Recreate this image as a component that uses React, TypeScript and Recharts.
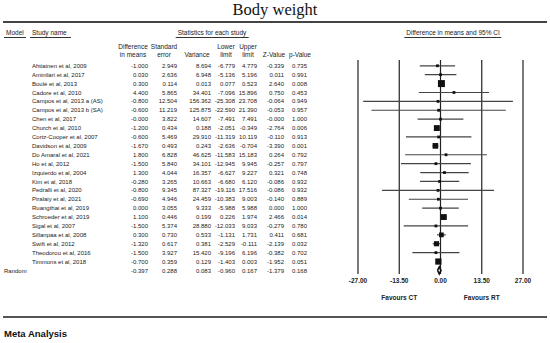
import React from 'react';
import { ScatterChart, Scatter, XAxis, YAxis, ErrorBar, ReferenceLine } from 'recharts';

const studies = [
  'Ahtiainen et al, 2009', 'Aminilari et al, 2017', 'Boulé et al, 2013', 'Cadore et al, 2010',
  'Campos et al, 2013 a (AS)', 'Campos et al, 2013 b (SA)', 'Chen et al, 2017', 'Church et al, 2010',
  'Cortz-Cooper et al, 2007', 'Davidson et al, 2009', 'Do Amaral et al, 2021', 'Ho et al, 2012',
  'Izquierdo et al, 2004', 'Kim et al, 2018', 'Pedralli et al, 2020', 'Piralaiy et al, 2021',
  'Ruangthai et al, 2019', 'Schroeder et al, 2019', 'Sigal et al, 2007', 'Sillanpaa et al, 2008',
  'Swift et al, 2012', 'Theodorou et al, 2016', 'Timmons et al, 2018',
];
const diffs = [-1.0, 0.03, 0.3, 4.4, -0.8, -0.6, -0, -1.2, -0.6, -1.67, 1.8, -1.5, 1.3, -0.28, -0.8, -0.69, 0.0, 1.1, -1.5, 0.3, -1.32, -1.5, -0.7];
const stdErrs = [2.949, 2.636, 0.114, 5.865, 12.504, 11.219, 3.822, 0.434, 5.469, 0.493, 6.828, 5.84, 4.044, 3.265, 9.345, 4.946, 3.055, 0.446, 5.374, 0.73, 0.617, 3.927, 0.359];
const variances = [8.694, 6.948, 0.013, 34.401, 156.362, 125.875, 14.607, 0.188, 29.91, 0.243, 46.625, 34.101, 16.357, 10.663, 87.327, 24.459, 9.333, 0.199, 28.88, 0.533, 0.381, 15.42, 0.129];
const lowers = [-6.779, -5.136, 0.077, -7.096, -25.308, -22.59, -7.491, -2.051, -11.319, -2.636, -11.583, -12.945, -6.627, -6.68, -19.116, -10.383, -5.988, 0.226, -12.033, -1.131, -2.529, -9.196, -1.403];
const uppers = [4.779, 5.196, 0.523, 15.896, 23.708, 21.39, 7.491, -0.349, 10.119, -0.704, 15.183, 9.945, 9.227, 6.12, 17.516, 9.003, 5.988, 1.974, 9.033, 1.731, -0.111, 6.196, 0.003];
const zValues = [-0.339, 0.011, 2.64, 0.75, -0.064, -0.053, -0, -2.764, -0.11, -3.39, 0.264, -0.257, 0.321, -0.086, -0.086, -0.14, 0.0, 2.466, -0.279, 0.411, -2.139, -0.382, -1.952];
const pValues = [0.735, 0.991, 0.008, 0.453, 0.949, 0.957, 1.0, 0.006, 0.913, 0.001, 0.792, 0.797, 0.748, 0.932, 0.932, 0.889, 1.0, 0.014, 0.78, 0.681, 0.032, 0.702, 0.051];

// random effects summary: diff, se, variance, lower, upper, z, p
const randomRow = [-0.397, 0.288, 0.083, -0.96, 0.167, -1.379, 0.168];

const xTicks = [-27, -13.5, 0, 13.5, 27];

const TAU2 = 0.42;
const RANDOM_IDX = studies.length;

const fmt = (v: number) => (Object.is(v, -0) ? '-0.000' : v.toFixed(3));

const studyData = studies.map((name, i) => ({
  name,
  x: diffs[i],
  y: i,
  err: [diffs[i] - lowers[i], uppers[i] - diffs[i]],
  size: Math.max(2.8, 4.6 * Math.sqrt(1 / (variances[i] + TAU2))),
}));

const diamondData = [
  { x: randomRow[3], y: RANDOM_IDX },
  { x: randomRow[0], y: RANDOM_IDX - 0.4 },
  { x: randomRow[4], y: RANDOM_IDX },
  { x: randomRow[0], y: RANDOM_IDX + 0.4 },
  { x: randomRow[3], y: RANDOM_IDX },
];

// right edges of the statistics columns
const colRight = [148, 177, 211, 235, 257, 284, 307];

const txt = '#222';
const FS = 6;
const HFS = 6.5;

const RowTick = (props: any) => {
  const { y, payload } = props;
  const i = payload.value as number;
  const isRandom = i === RANDOM_IDX;
  const vals = isRandom
    ? randomRow
    : [diffs[i], stdErrs[i], variances[i], lowers[i], uppers[i], zValues[i], pValues[i]];
  return (
    <g fontSize={FS} fill={txt} fontFamily='"Liberation Sans", Arial, sans-serif'>
      {isRandom ? (
        <text x={4} y={y} dy="0.35em">Random</text>
      ) : (
        <text x={32} y={y} dy="0.35em">{studies[i]}</text>
      )}
      {vals.map((v, k) => (
        <text key={k} x={colRight[k]} y={y} dy="0.35em" textAnchor="end">{fmt(v)}</text>
      ))}
    </g>
  );
};

const AxisTick = (props: any) => {
  const { x, y, payload } = props;
  const v = payload.value as number;
  return (
    <g fontSize={HFS} fill={txt} fontFamily='"Liberation Sans", Arial, sans-serif' fontWeight={600}>
      <text x={x} y={y - 1} dy="0.35em" textAnchor="middle">{v.toFixed(2)}</text>
      {v === -13.5 && <text x={x} y={y + 16} dy="0.35em" textAnchor="middle">Favours CT</text>}
      {v === 13.5 && <text x={x} y={y + 16} dy="0.35em" textAnchor="middle">Favours RT</text>}
    </g>
  );
};

const Box = (props: any) => {
  const { cx, cy, payload } = props;
  const s = payload.size;
  return <rect x={cx - s / 2} y={cy - s / 2} width={s} height={s} fill="#111" />;
};

const rowTicks = [...studies.map((_, i) => i), RANDOM_IDX];

const abs = (left: number, top: number, extra: React.CSSProperties = {}): React.CSSProperties => ({
  position: 'absolute', left, top, whiteSpace: 'nowrap', ...extra,
});

const centered = (cx: number, top: number, extra: React.CSSProperties = {}): React.CSSProperties =>
  abs(cx, top, { transform: 'translateX(-50%)', textAlign: 'center', ...extra });

export default function App() {
  const headFont: React.CSSProperties = { fontSize: HFS, lineHeight: '7.5px', color: txt };
  const underlined: React.CSSProperties = { ...headFont, borderBottom: '1px solid #333', paddingBottom: 0.5, paddingLeft: 2, paddingRight: 2 };
  return (
    <div style={{ position: 'absolute', left: 0, top: 0, width: 550, height: 343, background: '#fff', overflow: 'hidden', fontFamily: '"Liberation Sans", Arial, sans-serif' }}>
      <div style={{ position: 'absolute', left: 0, top: 0 }}>
        <ScatterChart width={550} height={343} margin={{ top: 60, right: 27, bottom: 29, left: 0 }}>
          <XAxis type="number" dataKey="x" domain={[-27, 27]} ticks={xTicks} interval={0}
            axisLine={false} tickLine={false} height={40} tick={<AxisTick />} />
          <YAxis type="number" dataKey="y" domain={[-0.65, 23.4]} reversed ticks={rowTicks} interval={0}
            axisLine={false} tickLine={false} width={358} tick={<RowTick />} />
          {xTicks.map((t) => (
            <ReferenceLine key={t} x={t} stroke="#222" strokeWidth={1.2} />
          ))}
          <Scatter data={studyData} shape={<Box />} isAnimationActive={false}>
            <ErrorBar dataKey="err" direction="x" width={0} stroke="#444" strokeWidth={1.2} />
          </Scatter>
          <Scatter data={diamondData} line={{ stroke: '#111', strokeWidth: 1.6 }} lineType="joint"
            shape={() => <g />} isAnimationActive={false} />
        </ScatterChart>
      </div>

      <div style={centered(275, 0, { fontFamily: '"Liberation Serif", serif', fontSize: 16.5, color: '#111' })}>Body weight</div>
      <div style={{ position: 'absolute', left: 3, top: 21, width: 544, height: 2, background: '#444' }} />

      <div style={abs(4, 28.5, underlined)}>Model</div>
      <div style={abs(30, 28.5, { ...underlined, paddingRight: 4 })}>Study name</div>
      <div style={centered(212, 28.5, underlined)}>Statistics for each study</div>
      <div style={centered(453, 28.5, underlined)}>Difference in means and 95% CI</div>

      <div style={centered(133, 43, headFont)}>Difference<br />in means</div>
      <div style={centered(164, 43, headFont)}>Standard<br />error</div>
      <div style={centered(197, 50.5, headFont)}>Variance</div>
      <div style={centered(226, 43, headFont)}>Lower<br />limit</div>
      <div style={centered(248, 43, headFont)}>Upper<br />limit</div>
      <div style={centered(274, 50.5, headFont)}>Z-Value</div>
      <div style={centered(300, 50.5, headFont)}>p-Value</div>

      <div style={{ position: 'absolute', left: 3, top: 316, width: 544, height: 2, background: '#555' }} />
      <div style={abs(4, 328, { fontSize: 9.5, fontWeight: 'bold', color: '#111', lineHeight: '12px' })}>Meta Analysis</div>
    </div>
  );
}
